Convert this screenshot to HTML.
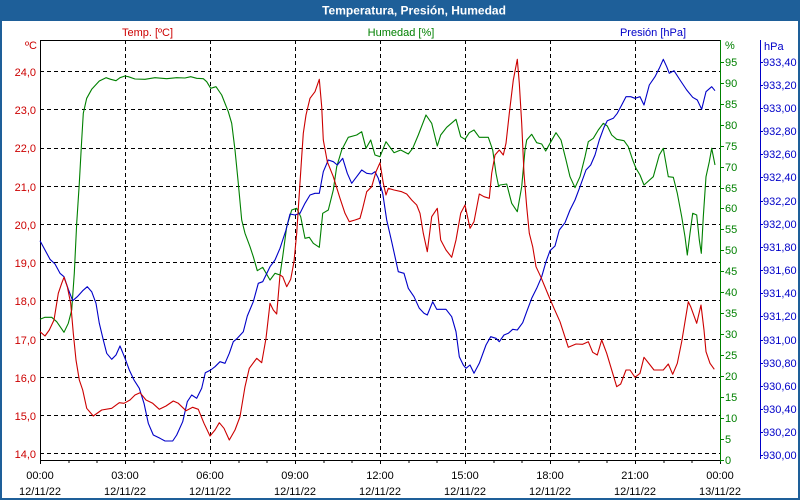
<!DOCTYPE html>
<html><head><meta charset="utf-8"><style>
html,body{margin:0;padding:0;background:#fff;}
svg{display:block;}
text{font-family:"Liberation Sans",Tahoma,sans-serif;font-size:11px;}
</style></head><body>
<svg width="800" height="500" viewBox="0 0 800 500" xmlns="http://www.w3.org/2000/svg">
<rect x="0" y="0" width="800" height="500" fill="#ffffff"/>
<!-- title bar -->
<rect x="0" y="0" width="800" height="21" fill="#1e5f99"/>
<text x="414" y="14.5" text-anchor="middle" fill="#ffffff" font-weight="bold" style="font-size:12px">Temperatura, Presión, Humedad</text>

<!-- series labels -->
<text x="147.5" y="36" text-anchor="middle" fill="#cc0000">Temp. [ºC]</text>
<text x="401" y="36" text-anchor="middle" fill="#008000">Humedad [%]</text>
<text x="653" y="36" text-anchor="middle" fill="#0000c8">Presión [hPa]</text>

<!-- units -->
<text x="37" y="49" text-anchor="end" fill="#cc0000">ºC</text>
<text x="725" y="49" fill="#008000">%</text>
<text x="764" y="50" fill="#0000c8">hPa</text>

<!-- grid -->
<g stroke="#000" stroke-width="1" stroke-dasharray="4,3" shape-rendering="crispEdges" fill="none">
<path d="M40 71.5H720M40 109.5H720M40 148.5H720M40 186.5H720M40 224.5H720M40 262.5H720M40 300.5H720M40 339.5H720M40 377.5H720M40 415.5H720M40 453.5H720"/>
<path d="M125.5 40V462M210.5 40V462M295.5 40V462M380.5 40V462M465.5 40V462M550.5 40V462M635.5 40V462"/>
</g>

<!-- frame axes -->
<g stroke="#000" stroke-width="1" shape-rendering="crispEdges" fill="none">
<path d="M40.5 40.5H720.5M40.5 40V460.5M40 460.5H720"/>
<path d="M40.5 460V464M68.8 460V463M97.2 460V463M125.5 460V464M153.8 460V463M182.2 460V463M210.5 460V464M238.8 460V463M267.2 460V463M295.5 460V464M323.8 460V463M352.2 460V463M380.5 460V464M408.8 460V463M437.2 460V463M465.5 460V464M493.8 460V463M522.2 460V463M550.5 460V464M578.8 460V463M607.2 460V463M635.5 460V464M663.8 460V463M692.2 460V463M720.5 460V464"/>
</g>

<!-- humidity axis -->
<g stroke="#008000" stroke-width="1" shape-rendering="crispEdges" fill="none">
<path d="M720.5 40V462"/>
<path d="M720 62.5H724M720 83.5H724M720 104.5H724M720 125.5H724M720 146.5H724M720 167.5H724M720 188.5H724M720 208.5H724M720 229.5H724M720 250.5H724M720 271.5H724M720 292.5H724M720 313.5H724M720 334.5H724M720 355.5H724M720 376.5H724M720 397.5H724M720 418.5H724M720 439.5H724M720 460.5H724"/>
</g>
<g fill="#008000">
<text x="725" y="66">95</text><text x="725" y="87">90</text><text x="725" y="108">85</text><text x="725" y="129">80</text>
<text x="725" y="150">75</text><text x="725" y="171">70</text><text x="725" y="192">65</text><text x="725" y="212">60</text>
<text x="725" y="233">55</text><text x="725" y="254">50</text><text x="725" y="275">45</text><text x="725" y="296">40</text>
<text x="725" y="317">35</text><text x="725" y="338">30</text><text x="725" y="359">25</text><text x="725" y="380">20</text>
<text x="725" y="401">15</text><text x="725" y="422">10</text><text x="725" y="443">5</text><text x="725" y="464">0</text>
</g>

<!-- pressure axis -->
<g stroke="#0000c8" stroke-width="1" shape-rendering="crispEdges" fill="none">
<path d="M760.5 40V459"/>
<path d="M760 62.5H763M760 85.5H763M760 108.5H763M760 131.5H763M760 154.5H763M760 177.5H763M760 201.5H763M760 224.5H763M760 247.5H763M760 270.5H763M760 293.5H763M760 316.5H763M760 340.5H763M760 363.5H763M760 386.5H763M760 409.5H763M760 432.5H763M760 455.5H763"/>
</g>
<g fill="#0000c8">
<text x="763" y="66">933,40</text><text x="763" y="89">933,20</text><text x="763" y="112">933,00</text><text x="763" y="135">932,80</text>
<text x="763" y="158">932,60</text><text x="763" y="181">932,40</text><text x="763" y="205">932,20</text><text x="763" y="228">932,00</text>
<text x="763" y="251">931,80</text><text x="763" y="274">931,60</text><text x="763" y="297">931,40</text><text x="763" y="320">931,20</text>
<text x="763" y="344">931,00</text><text x="763" y="367">930,80</text><text x="763" y="390">930,60</text><text x="763" y="413">930,40</text>
<text x="763" y="436">930,20</text><text x="763" y="459">930,00</text>
</g>

<!-- temperature labels -->
<g fill="#cc0000" text-anchor="end">
<text x="36" y="76">24,0</text><text x="36" y="114">23,0</text><text x="36" y="152">22,0</text><text x="36" y="191">21,0</text>
<text x="36" y="229">20,0</text><text x="36" y="267">19,0</text><text x="36" y="305">18,0</text><text x="36" y="344">17,0</text>
<text x="36" y="382">16,0</text><text x="36" y="420">15,0</text><text x="36" y="458">14,0</text>
</g>

<!-- x labels -->
<g fill="#000" text-anchor="middle">
<text x="40" y="479">00:00</text><text x="40" y="495">12/11/22</text>
<text x="125" y="479">03:00</text><text x="125" y="495">12/11/22</text>
<text x="210" y="479">06:00</text><text x="210" y="495">12/11/22</text>
<text x="295" y="479">09:00</text><text x="295" y="495">12/11/22</text>
<text x="380" y="479">12:00</text><text x="380" y="495">12/11/22</text>
<text x="465" y="479">15:00</text><text x="465" y="495">12/11/22</text>
<text x="550" y="479">18:00</text><text x="550" y="495">12/11/22</text>
<text x="635" y="479">21:00</text><text x="635" y="495">12/11/22</text>
<text x="720" y="479">00:00</text><text x="720" y="495">13/11/22</text>
</g>

<!-- series -->
<g fill="none" stroke-width="1.1" stroke-linejoin="round">
<polyline stroke="#008000" points="40,319.3 45,317.3 51.7,317.3 56.7,321.7 64,332.3 68.3,323.3 71.7,310 74.3,273.3 76.7,223.3 79.3,183.3 81.7,140 83.3,113.3 86.7,98.3 91.7,89.3 99.3,81 106,77.7 110.7,79.3 116,80.7 120,77.7 125,76 128.3,76.7 135,79 145,79.3 155,77.7 166.7,78.7 176.7,77.7 185,78 190.7,76.7 196.7,78.3 203.3,78.7 206.7,81.7 210.7,88.3 216,86.7 221.7,95 228.3,111.7 231.7,123.3 235,150 238.3,183.3 241.7,220 245,233.3 250,246.7 253.3,256.7 257.3,270.7 262.7,267.3 270,280 275,273.3 280,275 282.7,256.7 286.7,226.7 291.7,210 296.7,208.3 300.7,216.7 305,238.3 309.3,237.3 313.3,243.3 319.3,247.3 322.7,213.3 328.3,210 333.3,190 336.7,166.7 341.7,150 348.3,137.3 356.7,135 361.7,131.7 366,148.3 370.7,140 375,155 380,156.7 386,141.7 394,152.7 400.7,150 408.3,154 412.7,148.3 418.3,135 426,115 431.7,123.3 437.3,146 440.7,135 446.7,127.3 456,119.3 460.7,136.7 465,139.3 469.3,132.7 474,130 479.3,137.3 488.3,137.3 492.7,150 496,173.3 498.7,186.7 500,185 506.7,184 511.7,203.3 517.3,211.7 521.7,186.7 525,150 526.7,140 531.7,134.3 536.7,142.7 541.7,144 545.7,151 550,143.3 556,132.7 561,140 566,160 570,176.7 575,187.7 580,176.7 585,156.7 588.3,141.7 593.3,138.3 598.3,130 603.3,123.3 607.3,126 611.7,135 616.7,139.3 624,140.7 628.3,146.7 632.7,160 636,168.3 640,175 644,185 653.3,176.7 659.3,155 663.3,148.3 668.3,176.7 673.3,177.3 677.3,193.3 681.7,216.7 685,236.7 687.3,255 690,233.3 692.7,213.3 696.7,215 699.3,240 701.3,253.3 703.3,216.7 706,176.7 709.3,161.7 711.7,148.3 715,165"/>
<polyline stroke="#0000c8" points="40,240.7 45,250 50,259.3 55,264 60,273.3 64,276.7 68.3,289.3 72.7,300.7 77.3,296.7 82.7,290.7 87.3,286.7 91.7,291.7 96,303.3 99.3,323.3 103.3,340 106.7,353.3 111.7,359.3 116,355 120,346 125,358.3 129.3,370 134,380 139.3,388.3 144,403.3 148.3,423.3 153.3,435 160,438.3 165,441 172.7,441 176.7,435 182.7,421.7 187.3,401.7 191.7,395 196.7,398.3 201.7,388.3 205.3,372.7 210.7,370 215,366.7 220,361.7 225,363.3 229.3,353.3 233.3,341.7 237.3,338.3 243.3,331.7 247.3,316 253.3,301.7 258.3,283.3 262.7,281.7 266,275 270,266.7 275,260 280,248.3 286,230 290,214 295,215 300,213.3 305,203.3 310,195 315,193.3 319.3,193.3 323.3,171.7 328.3,160 333.3,161.7 337.3,165 342.7,158.3 347.3,173.3 351.7,183.3 356.7,176.7 361.7,170 366.7,173.3 371.7,174 375,171.7 378.3,178.3 382.7,193.3 386.7,220 391.7,241.7 398.3,271.7 404,273.3 408.3,288.3 414,296.7 419.3,308.3 424,313.3 427.3,315 432.7,301.7 436.7,309.3 446,309.3 451.7,316.7 456,331.7 459.3,356.7 463.3,365 466,368.3 470,365 474,373.3 479.3,363.3 486,345 490.7,336.7 496,338.3 499.3,341.7 504,335 508.3,333.3 512.7,329.3 517.3,330 522.7,322.7 526.7,311.7 531.7,298.3 536.7,288.3 541.7,276.7 546,261.7 550,250.7 555,246 559.3,230 565,222.7 570,210 575,200 580,186.7 586,170 590.7,165 595,155 599.3,140 604,127.3 607.3,120.7 613.3,118.3 617.3,113.3 621.7,105 626,96.7 630.7,96.7 635,98.3 640,96.7 644,105 649.3,85 655,76.7 659.3,68.3 663.3,59.3 666.7,66.7 669.3,73.3 674,70.7 680,80 686.7,90 692.7,97.3 697.3,100 701.7,109.3 706,91.7 711.7,86.7 715,90.7"/>
<polyline stroke="#cc0000" points="40,331.7 45,336 49.3,330 54,320 58.3,293.3 61.7,283.3 64,277.3 67.3,286.7 70.7,303.3 73.3,333.3 76,360 79.3,380 82.7,390 86.7,408.3 93.3,416 101.7,410 111.7,408.3 119.3,402.7 124,403.3 130,400 135,395 140,392.7 146,400 152.7,403.3 159.3,409.3 166,406 173.3,401 178.3,403.3 186,410.7 192.7,407.3 198.3,409.3 204,423.3 210,436 215,430 219.3,422.7 224,428.3 229.3,440 235,430 240,416.7 245,386.7 249.3,368.3 256.7,358.3 261.7,362.7 266,338.3 270,303.3 273.3,310 276.7,314 280,275 282.7,276.7 286.7,286.7 290.7,279.3 294,261.7 296.7,233.3 299.3,193.3 301.7,156.7 303.3,133.3 306,115 310,98.3 315,91.7 319.3,79.3 321.7,106.7 323.3,140 327.3,161.7 333.3,176.7 340,198.3 345,213.3 349.3,221.7 355,220 360,218.3 362.7,208.3 366.7,191.7 371.7,186.7 376,171.7 380,162.7 383.3,183.3 386,195 388.3,188.3 394,190 401.7,191.7 406.7,194 411.7,200 416.7,205 420,213.3 423.3,233.3 427.3,251.7 431.7,216.7 437.3,208.3 440.7,240 446,250 451.7,257.3 456,240 460.7,213.3 465,205 470,228.3 474,221.7 479.3,194 484,196.7 489.3,198.3 491.7,173.3 495,155 499.3,150 503.3,155 506,143.3 509.3,113.3 513.3,80 517.3,59.3 519.3,83.3 521.7,123.3 524,173.3 526.7,206.7 529.3,233.3 532.7,246.7 536,266.7 540.7,276.7 548.3,295 554,308.3 560,321.7 568.3,347.3 576,344 582.7,344.3 588.3,341.7 592.7,352.3 597.3,355 601.7,340 606.7,353.3 612.7,373.3 616.7,386.7 620.7,384 626,370 630,370 635,377.3 640,373.3 644,357.3 649.3,364 654,370 663.3,370 668.3,364 672.7,374.3 677.3,363.3 681.7,341.7 685,321.7 688.3,301.7 690.7,306.7 696.7,323.3 701,305 704,330 706,351.7 710,363.3 714.3,369.3"/>
</g>

<!-- outer frame -->
<rect x="0" y="20" width="2" height="480" fill="#1e5f99"/>
<rect x="798" y="20" width="2" height="480" fill="#1e5f99"/>
<rect x="0" y="498" width="800" height="2" fill="#1e5f99"/>
</svg>
</body></html>
